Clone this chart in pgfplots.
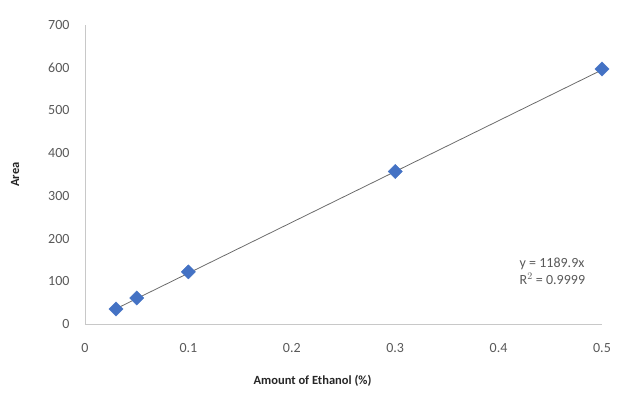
\documentclass[border=0pt]{standalone}
\usepackage{pgfplots}
\pgfplotsset{compat=1.18}
\usepackage{fontspec}
\setmainfont{Carlito}
\definecolor{xlblue}{HTML}{4472C4}
\definecolor{ticktext}{HTML}{595959}
\definecolor{axisgray}{HTML}{C8C8C8}
\begin{document}
\begin{tikzpicture}[x=1pt,y=1pt]
\path (0,0) rectangle (621,392);
\begin{axis}[
  at={(85pt,68pt)}, anchor=origin,
  scale only axis, width=517pt, height=299pt,
  xmin=0, xmax=0.5, ymin=0, ymax=700,
  xtick={0,0.1,...,0.5}, ytick={0,100,...,700},
  xticklabels={0,0.1,0.2,0.3,0.4,0.5},
  axis x line=bottom, axis y line=left,
  axis line style={axisgray, line width=0.9pt, -},
  major tick length=0pt,
  tick label style={font=\fontsize{14}{16}\selectfont, text=ticktext},
  /pgf/number format/assume math mode=true,
  xticklabel style={yshift=-16pt},
  yticklabel style={xshift=-12pt},
  xlabel={\textbf{Amount of Ethanol (\%)}},
  ylabel={\textbf{Area}},
  label style={font=\fontsize{12.5}{14}\selectfont, text=black!85},
  xlabel style={at={(axis description cs:0.44,0)}, anchor=center, yshift=-57pt},
  ylabel style={at={(axis description cs:0,0.5)}, anchor=center, yshift=70pt},
  clip=false,
]
\addplot[color=gray!85!black, line width=0.8pt, no marks] coordinates {(0.03,35.697) (0.5,594.95)};
\addplot[only marks, mark=square*, mark size=5pt, mark options={rotate=45, fill=xlblue, draw=xlblue}] coordinates {
(0.03,35) (0.05,61) (0.1,122) (0.3,357) (0.5,597)};
\node[anchor=west, font=\fontsize{14}{17}\selectfont, text=ticktext, align=left] at (axis cs:0.417,123) {y = 1189.9x\\R$^{2}$ = 0.9999};
\end{axis}
\end{tikzpicture}
\end{document}
